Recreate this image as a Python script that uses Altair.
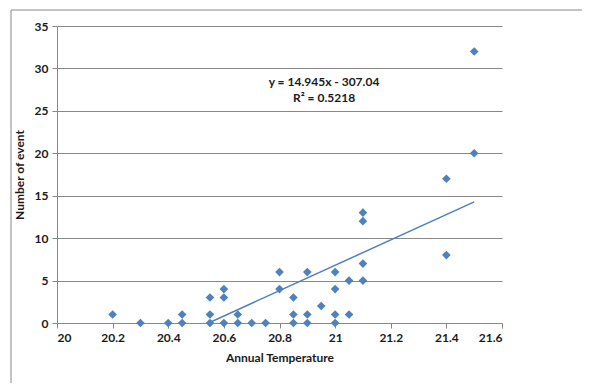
import altair as alt
import pandas as pd

temps = [20.2, 20.3, 20.4, 20.45, 20.45, 20.55, 20.55, 20.55, 20.6, 20.6, 20.6,
         20.65, 20.65, 20.7, 20.75, 20.8, 20.8, 20.85, 20.85, 20.85, 20.9, 20.9, 20.9,
         20.95, 21.0, 21.0, 21.0, 21.0, 21.05, 21.05, 21.1, 21.1, 21.1, 21.1,
         21.4, 21.4, 21.5, 21.5]
events = [1, 0, 0, 0, 1, 0, 1, 3, 0, 3, 4,
          0, 1, 0, 0, 4, 6, 0, 1, 3, 0, 1, 6,
          2, 0, 1, 4, 6, 1, 5, 5, 7, 12, 13,
          8, 17, 20, 32]
trend_x = [20.545, 21.5]
trend_y = [0.0, 14.28]
eq_lines = ["y = 14.945x - 307.04", "R² = 0.5218"]
eq_x = [20.96, 20.96]
eq_y = [28.4, 26.5]
x_ticks = [20, 20.2, 20.4, 20.6, 20.8, 21, 21.2, 21.4, 21.6]
y_ticks = [0, 5, 10, 15, 20, 25, 30, 35]

pts = pd.DataFrame({"t": temps, "n": events})
tr = pd.DataFrame({"t": trend_x, "n": trend_y})
eq = pd.DataFrame({"t": eq_x, "n": eq_y, "label": eq_lines})

FONT = "Lato"
FS = 12
xs = alt.Scale(domain=[20, 21.6], nice=False)
ys = alt.Scale(domain=[0, 35], nice=False)

xaxis = alt.Axis(values=x_ticks, format="~g", grid=False, title="Annual Temperature",
                 domainColor="#888888", tickColor="#888888", tickSize=5,
                 labelFont=FONT, labelFontSize=FS, labelFontWeight="bold", labelColor="#1a1a1a",
                 labelPadding=4, titleFont=FONT, titleFontSize=FS, titleFontWeight="bold",
                 titleColor="#1a1a1a", titlePadding=9)
yaxis = alt.Axis(values=y_ticks, grid=True, gridColor="#888888", title="Number of event",
                 domainColor="#888888", tickColor="#888888", tickSize=5,
                 labelFont=FONT, labelFontSize=FS, labelFontWeight="bold", labelColor="#1a1a1a",
                 labelPadding=4, titleFont=FONT, titleFontSize=FS, titleFontWeight="bold",
                 titleColor="#1a1a1a", titlePadding=8)

points = alt.Chart(pts).mark_point(shape="diamond", filled=True, size=75, color="#4F81BD",
                                   opacity=1).encode(
    x=alt.X("t:Q", scale=xs, axis=xaxis),
    y=alt.Y("n:Q", scale=ys, axis=yaxis),
)
line = alt.Chart(tr).mark_line(color="#4F81BD", strokeWidth=1.5).encode(
    x=alt.X("t:Q", scale=xs), y=alt.Y("n:Q", scale=ys))
text = alt.Chart(eq).mark_text(font=FONT, fontSize=FS, fontWeight="bold",
                               color="#1a1a1a", align="center").encode(
    x=alt.X("t:Q", scale=xs), y=alt.Y("n:Q", scale=ys), text="label:N")

frame_left = alt.Chart(pd.DataFrame({"a": [0]})).mark_rule(color="#888888", strokeWidth=1).encode(
    x=alt.value(-46), y=alt.value(-16), y2=alt.value(400))
frame_top = alt.Chart(pd.DataFrame({"a": [0]})).mark_rule(color="#888888", strokeWidth=1).encode(
    x=alt.value(-46), x2=alt.value(600), y=alt.value(-16))

chart = alt.layer(frame_left, frame_top, points, line, text).properties(
    width=445, height=297,
    autosize=alt.AutoSizeParams(type="none"),
    padding={"left": 49, "top": 18, "right": 80, "bottom": 60},
).configure_view(stroke=None)

chart.save("out.html", embed_options={"renderer": "svg", "actions": False})
